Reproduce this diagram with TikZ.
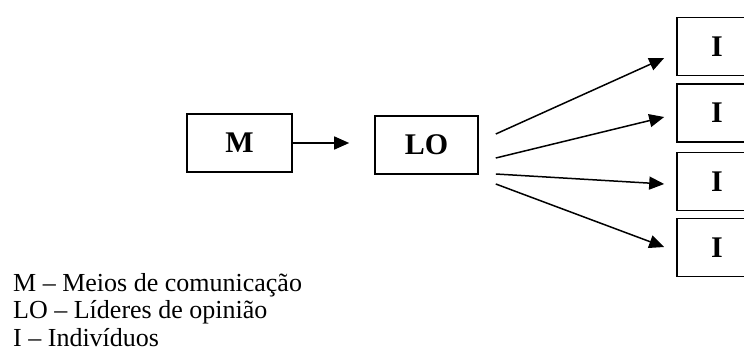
\documentclass[tikz,border=0pt]{standalone}
\usepackage{fontspec}
\setmainfont{Liberation Serif}
\usetikzlibrary{arrows.meta,calc}
\begin{document}
\begin{tikzpicture}[x=1pt,y=-1pt,
  box/.style={draw,line width=1.6pt,minimum height=58pt,inner sep=0pt,font=\fontsize{30}{30}\selectfont\bfseries},
  arr/.style={line width=1.5pt,-{Triangle[length=15pt,width=13pt]}},
  legend/.style={anchor=base west,inner sep=0pt,font=\fontsize{26}{29}\selectfont}]
\clip (0,0) rectangle (744,351);
\fill[white] (0,0) rectangle (744,351);
\node[box,minimum width=105pt] (M) at (239.5,143) {M};
\node[box,minimum width=103pt] (LO) at (426.5,145) {LO};
\node[box,minimum width=80pt] (I1) at (717,46.5) {I};
\node[box,minimum width=80pt] (I2) at (717,113) {I};
\node[box,minimum width=80pt] (I3) at (717,181.5) {I};
\node[box,minimum width=80pt] (I4) at (717,247.5) {I};
\draw[arr,shorten >=25pt] (M.east) -- (M.east -| LO.west);
\coordinate (s1) at ($(LO.east)+(17,-11)$);
\coordinate (s2) at ($(LO.east)+(17,13)$);
\coordinate (s3) at ($(LO.east)+(17,29)$);
\coordinate (s4) at ($(LO.east)+(17,39)$);
\draw[arr] (s1) -- ($(I1.west)+(-12,11.5)$);
\draw[arr] (s2) -- ($(I2.west)+(-12,4)$);
\draw[arr] (s3) -- ($(I3.west)+(-12,2.5)$);
\draw[arr] (s4) -- ($(I4.west)+(-12,-0.5)$);
\node[legend] (L1) at (13,291) {M – Meios de comunicação};
\node[legend] (L2) at (13,318.5) {LO – Líderes de opinião};
\node[legend] (L3) at (13,346) {I – Indivíduos};
\end{tikzpicture}
\end{document}
